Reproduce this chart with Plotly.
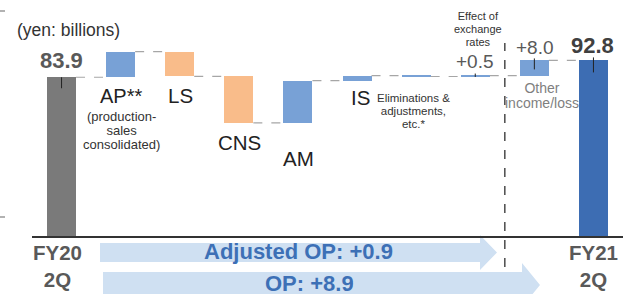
import plotly.graph_objects as go

# ---- data ----
categories = ["FY20 2Q", "AP", "LS", "CNS", "AM", "IS", "Elim", "FX", "Other", "FY21 2Q"]
start_value = 83.9
changes = [13.5, -13.0, -24.6, 22.3, 2.7, -0.5, 0.5, 8.0]
end_value = 92.8
adjusted_op_change = 0.9
op_change = 8.9
bar_colors = ["#7a7a7a", "#78a1d6", "#f9bc8a", "#f9bc8a", "#78a1d6",
              "#78a1d6", "#78a1d6", "#78a1d6", "#78a1d6", "#3d6db3"]

# ---- geometry helpers (pixel -> paper) ----
W, H = 623, 294
L, R, T, B = 32, 0, 0, 58
PW, PH = W - L - R, H - T - B
PX_PER_UNIT = 1.892


def px(x):
    return (x - L) / PW


def py(y):
    return (H - B - y) / PH


def du(pixels):
    return pixels / PX_PER_UNIT


# ---- build waterfall levels ----
levels = [start_value]
bases = [0]
ys = [start_value]
for c in changes:
    prev = levels[-1]
    bases.append(prev)
    ys.append(c)
    levels.append(prev + c)
bases.append(0)
ys.append(end_value)
levels.append(end_value)
xs = list(range(len(categories)))

FONT = "Liberation Sans, Arial, sans-serif"
BW = 0.49

fig = go.Figure()
fig.add_trace(go.Bar(x=xs, y=ys, base=bases, width=BW,
                     marker=dict(color=bar_colors, line=dict(width=0)),
                     hoverinfo="skip", showlegend=False))

# connectors
cx, cy = [], []
for i in range(len(categories) - 1):
    lvl = levels[i]
    cx += [i + BW / 2, i + 1 - BW / 2, None]
    cy += [lvl, lvl, None]
fig.add_trace(go.Scatter(x=cx, y=cy, mode="lines",
                         line=dict(color="#a6a6a6", width=1.2, dash="dash"),
                         hoverinfo="skip", showlegend=False))

shapes = []
# leader ticks at labelled bars
for idx, up, down in [(0, 0, 11), (7, 2, 1.4), (8, 2, 9), (9, 3, 12)]:
    lvl = levels[idx]
    shapes.append(dict(type="line", xref="x", yref="y", x0=idx, x1=idx,
                       y0=lvl + du(up), y1=lvl - du(down),
                       line=dict(color="#222222", width=1)))
# vertical dashed separator between FX and Other
shapes.append(dict(type="line", xref="x", yref="paper", x0=7.5, x1=7.5,
                   y0=py(267), y1=py(43),
                   line=dict(color="#555555", width=1.6, dash="dash")))
# small left marks
for yy in (11, 217):
    shapes.append(dict(type="line", xref="paper", yref="paper", x0=px(0), x1=px(5),
                       y0=py(yy), y1=py(yy), line=dict(color="#999999", width=1.5)))


def arrow(x0, x_head, x_tip, y_top, y_bot, h_top, h_bot):
    yc = (h_top + h_bot) / 2
    pts = [(x0, y_top), (x_head, y_top), (x_head, h_top), (x_tip, yc),
           (x_head, h_bot), (x_head, y_bot), (x0, y_bot)]
    path = "M " + " L ".join(f"{px(a):.5f},{py(b):.5f}" for a, b in pts) + " Z"
    return dict(type="path", xref="paper", yref="paper", path=path,
                fillcolor="#cfe0f2", line=dict(width=0), layer="below")


shapes.append(arrow(100, 480, 497, 243, 262, 235, 270))
shapes.append(arrow(103, 522, 540, 272, 298, 263, 307))

ann = []


def text(t, x, y, size, color="#222222", bold=False, h=None):
    if bold:
        t = f"<b>{t}</b>"
    a = dict(text=t, x=px(x), y=py(y), xref="paper", yref="paper",
             xanchor="center", yanchor="middle", showarrow=False,
             font=dict(family=FONT, size=size, color=color))
    if h is not None:
        a["height"] = h
        a["valign"] = "middle"
    ann.append(a)


def multiline(lines, x, yc, size, spacing, color):
    # base font size sets the line spacing (1.3em); glyphs drawn at `size`
    base = spacing / 1.3
    t = "<br>".join(f'<span style="font-size:{size}px">{s}</span>' for s in lines)
    ann.append(dict(text=t, x=px(x), y=py(yc), xref="paper", yref="paper",
                    xanchor="center", yanchor="middle", showarrow=False, align="center",
                    font=dict(family=FONT, size=base, color=color)))


text("(yen: billions)", 68, 29.5, 17.5, "#333333")
text(f"{start_value:.1f}", 61, 60, 22, "#595959", bold=True)
text("AP**", 121, 95.5, 20)
multiline(["(production-", "sales", "consolidated)"], 121, 130, 13, 14, "#333333")
text("LS", 180, 95.5, 20.5)
text("CNS", 239, 142.5, 20.5)
text("AM", 298, 158.5, 20.5)
text("IS", 360, 97.5, 20.5)
multiline(["Eliminations &", "adjustments,", "etc.*"], 413, 110.5, 11.5, 13, "#333333")
multiline(["Effect of", "exchange", "rates"], 478, 29, 11, 13, "#333333")
text(f"{changes[6]:+.1f}", 475, 62, 19, "#595959")
text(f"{changes[7]:+.1f}", 535, 47, 19, "#595959")
text(f"{end_value:.1f}", 592, 45, 22, "#404040", bold=True)
multiline(["Other", "income/loss"], 542, 95.5, 14, 15, "#7f7f7f")
for x, lab in [(57.5, "FY20"), (593.5, "FY21")]:
    text(f"{lab}<br>2Q", x, 265.5, 20.5, "#595959", bold=True)
text(f"Adjusted OP: {adjusted_op_change:+.1f}", 298, 251, 22, "#3d70b6", bold=True)
text(f"OP: {op_change:+.1f}", 309, 282.5, 22, "#3d70b6", bold=True, h=22)

fig.update_layout(
    width=W, height=H,
    margin=dict(l=L, r=R, t=T, b=B, pad=0),
    paper_bgcolor="white", plot_bgcolor="white",
    bargap=0,
    xaxis=dict(range=[-0.5, len(categories) - 0.5], showline=True, linecolor="#333333",
               linewidth=2, showticklabels=False, showgrid=False, zeroline=False,
               ticks="", fixedrange=True),
    yaxis=dict(range=[0, (H - B - T) / PX_PER_UNIT], visible=False, showgrid=False,
               zeroline=False, fixedrange=True),
    shapes=shapes, annotations=ann,
    font=dict(family=FONT),
)

fig.write_html("out.html", config={"displayModeBar": False},
               post_script="document.body.style.margin='0';document.body.style.overflow='hidden';")
